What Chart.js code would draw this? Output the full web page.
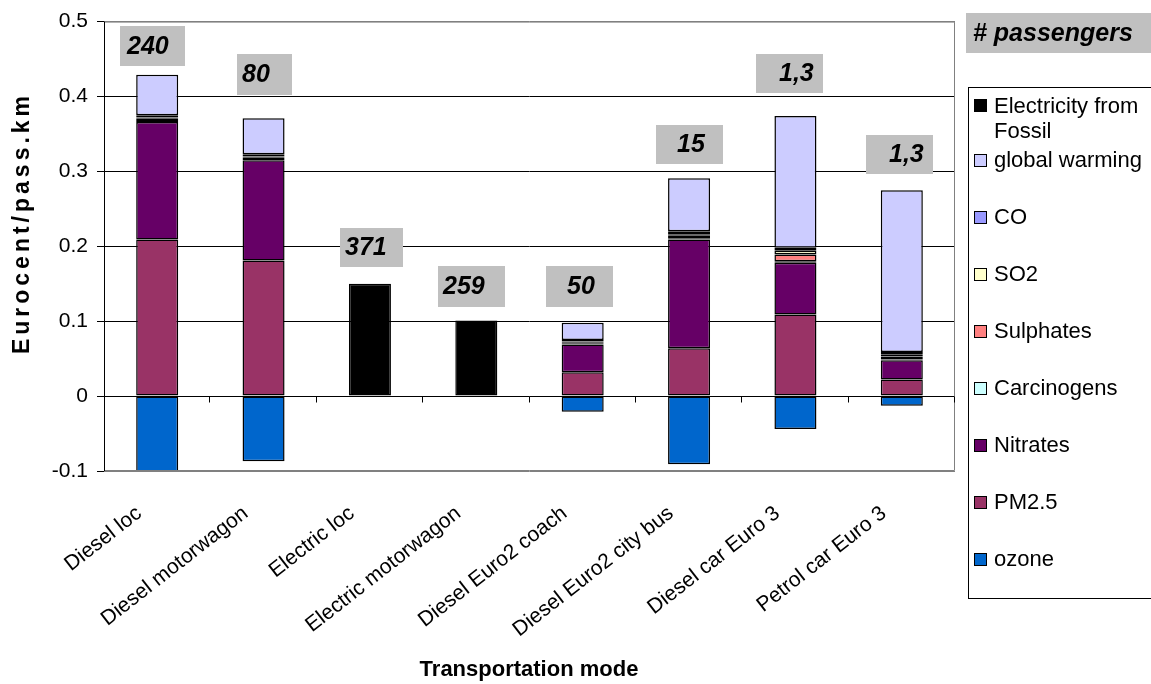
<!DOCTYPE html>
<html><head><meta charset="utf-8">
<script src="https://cdn.jsdelivr.net/npm/chart.js@4.4.1/dist/chart.umd.min.js"></script>
<style>html,body{margin:0;padding:0;background:#fff;} #wrap{width:1151px;height:684px;position:relative;}</style>
</head><body><div id="wrap"><canvas id="c" width="1151" height="684"></canvas></div>
<script>
// ---- data ----
const categories = ['Diesel loc','Diesel motorwagon','Electric loc','Electric motorwagon','Diesel Euro2 coach','Diesel Euro2 city bus','Diesel car Euro 3','Petrol car Euro 3'];
const ozone         = [-0.101, -0.087, 0, 0, -0.021, -0.091, -0.044, -0.013];
const pm25          = [0.209, 0.181, 0, 0, 0.032, 0.064, 0.109, 0.022];
const nitrates      = [0.157, 0.134, 0, 0, 0.037, 0.145, 0.069, 0.026];
const carcinogens   = [0.004, 0.003, 0, 0, 0.001, 0.001, 0.002, 0.001];
const sulphates     = [0.001, 0.001, 0, 0, 0.002, 0.004, 0.009, 0.004];
const so2           = [0.001, 0.001, 0, 0, 0.001, 0.002, 0.005, 0.003];
const co            = [0.003, 0.003, 0, 0, 0.002, 0.004, 0.004, 0.003];
const globalWarming = [0.054, 0.048, 0, 0, 0.023, 0.071, 0.176, 0.216];
const electricity   = [0, 0, 0.150, 0.101, 0, 0, 0, 0];
const passengers    = ['240','80','371','259','50','15','1,3','1,3'];
const passengerBoxTop = [0.494, 0.457, 0.224, 0.1735, 0.1735, 0.3616, 0.457, 0.348];
const yTicks = [-0.1, 0, 0.1, 0.2, 0.3, 0.4, 0.5];

// ---- style ----
const FONT = '"Liberation Sans", Arial, Helvetica, sans-serif';
const seriesNames  = ['ozone','PM2.5','Nitrates','Carcinogens','Sulphates','SO2','CO','global warming','Electricity from Fossil'];
const seriesColors = ['#0066CC','#993366','#660066','#CCFFFF','#FF8080','#FFFFCC','#9999FF','#CCCCFF','#000000'];
const seriesValues = [ozone, pm25, nitrates, carcinogens, sulphates, so2, co, globalWarming, electricity];
// box layout per label: [dx from category centre, width, height, text indent]
const boxLayout = [[-37,65,40,7],[-27,55,41,5],[-30,63,39,5],[-38,67,41,5],[-37,67,41,21],[-33,67,39,21],[-39,67,39,23],[-36,67,39,23]];

const datasets = seriesNames.map((name, i) => ({
  label: name,
  data: seriesValues[i].map(v => v === 0 ? null : v),
  backgroundColor: seriesColors[i],
  borderColor: '#000',
  borderWidth: 1.5,
  borderSkipped: false,
  categoryPercentage: 1,
  barPercentage: 0.395
}));

const near = (a, b) => Math.abs(a - b) < 1e-9;

const decor = {
  id: 'decor',
  beforeDraw(chart) {
    const c = chart.ctx;
    c.save(); c.fillStyle = '#fff'; c.fillRect(0, 0, chart.width, chart.height); c.restore();
  },
  afterDraw(chart) {
    const c = chart.ctx, a = chart.chartArea, xs = chart.scales.x, ys = chart.scales.y;
    c.save();
    // plot border (grey) top/right/bottom
    c.strokeStyle = '#808080'; c.lineWidth = 1;
    c.beginPath();
    c.moveTo(a.left, a.top + 0.5); c.lineTo(a.right - 0.5, a.top + 0.5);
    c.lineTo(a.right - 0.5, a.bottom - 0.5); c.lineTo(a.left, a.bottom - 0.5);
    c.stroke();
    // left axis black
    c.strokeStyle = '#000';
    c.beginPath(); c.moveTo(a.left + 0.5, a.top); c.lineTo(a.left + 0.5, a.bottom); c.stroke();
    // category tick marks on the zero line
    const y0 = Math.round(ys.getPixelForValue(0)) + 0.5;
    const half = (xs.getPixelForValue(1) - xs.getPixelForValue(0)) / 2;
    c.beginPath();
    for (let i = 0; i < categories.length; i++) {
      const x = Math.round(xs.getPixelForValue(i) + half) - 0.5;
      c.moveTo(x, y0); c.lineTo(x, y0 + 6);
    }
    c.stroke();

    // passenger boxes
    c.font = 'italic bold 25px ' + FONT;
    c.textBaseline = 'middle'; c.textAlign = 'left';
    passengers.forEach((txt, i) => {
      const [dx, w, h, ind] = boxLayout[i];
      const x = Math.round(xs.getPixelForValue(i) + dx);
      const y = Math.round(ys.getPixelForValue(passengerBoxTop[i]));
      c.fillStyle = '#C0C0C0'; c.fillRect(x, y, w, h);
      c.fillStyle = '#000'; c.fillText(txt, x + ind, y + h / 2 + 1);
    });
    // header box
    c.fillStyle = '#C0C0C0'; c.fillRect(966, 13, 190, 40);
    c.fillStyle = '#000'; c.fillText('# passengers', 973, 34);

    // legend
    c.strokeStyle = '#000'; c.lineWidth = 1;
    c.strokeRect(968.5, 87.5, 200, 511);
    c.font = '22px ' + FONT; c.textBaseline = 'middle';
    const order = seriesNames.map((n, i) => i).reverse();
    order.forEach((si, k) => {
      const cy = k === 0 ? 104.5 : 159.5 + (k - 1) * 57.1;
      c.fillStyle = seriesColors[si];
      c.fillRect(974, Math.round(cy) - 6, 13, 13);
      c.strokeRect(974.5, Math.round(cy) - 5.5, 12, 12);
      c.fillStyle = '#000';
      if (k === 0) {
        c.fillText('Electricity from', 994, cy + 2.5);
        c.fillText('Fossil', 994, cy + 27.5);
      } else {
        c.fillText(seriesNames[si], 994, cy + 1);
      }
    });

    // axis titles
    c.font = 'bold 23px ' + FONT; c.textAlign = 'center'; c.textBaseline = 'middle';
    c.save();
    c.translate(23, 225); c.rotate(-Math.PI / 2);
    try { c.letterSpacing = '4px'; } catch (e) {}
    c.fillText('Eurocent/pass.km', 2, 0);
    c.restore();
    c.font = 'bold 22px ' + FONT;
    c.fillText('Transportation mode', 529, 670);
    c.restore();
  }
};

new Chart(document.getElementById('c'), {
  type: 'bar',
  data: { labels: categories, datasets },
  options: {
    responsive: false,
    devicePixelRatio: 1,
    animation: false,
    layout: { padding: { left: 0, top: 18, right: 196, bottom: 0 } },
    plugins: { legend: { display: false }, tooltip: { enabled: false } },
    scales: {
      x: {
        stacked: true,
        grid: { display: false },
        border: { display: false },
        ticks: { color: '#000', font: { family: FONT, size: 21 }, minRotation: 38, maxRotation: 38, autoSkip: false, padding: 22, labelOffset: -18 },
        afterFit: s => { s.height = 213; }
      },
      y: {
        stacked: true,
        min: -0.1, max: 0.5,
        afterBuildTicks: s => { s.ticks = yTicks.map(v => ({ value: v })); },
        ticks: { color: '#000', font: { family: FONT, size: 21 }, padding: 9,
                 callback: v => String(Math.round(v * 10) / 10) },
        grid: { color: ctx => (near(ctx.tick.value, 0.5) || near(ctx.tick.value, -0.1)) ? '#808080' : '#000',
                tickColor: '#000', tickLength: 7, lineWidth: 1 },
        border: { display: false },
        afterFit: s => { s.width = 104; }
      }
    }
  },
  plugins: [decor]
});
</script>
</body></html>
